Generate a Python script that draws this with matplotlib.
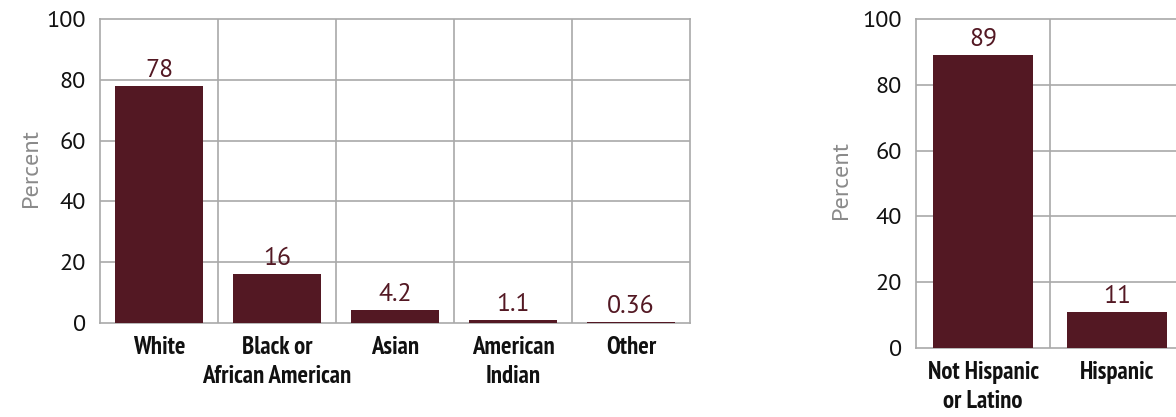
import matplotlib
matplotlib.use("Agg")
import matplotlib.pyplot as plt

# Race and ethnicity breakdown (percent)
race_labels = ["White", "Black or\nAfrican American", "Asian", "American\nIndian", "Other"]
race_values = [78, 16, 4.2, 1.1, 0.36]
race_text = ["78", "16", "4.2", "1.1", "0.36"]

eth_labels = ["Not Hispanic\nor Latino", "Hispanic"]
eth_values = [89, 11]
eth_text = ["89", "11"]

y_ticks = [0, 20, 40, 60, 80, 100]

BAR = "#531823"
GRID = "#a9a9a9"
NUM_FONT = ["PT Sans", "Open Sans", "DejaVu Sans"]
CAT_FONT = ["PT Sans Narrow", "IBM Plex Sans Condensed", "DejaVu Sans"]

fig = plt.figure(figsize=(11.76, 4.17), dpi=100)
ax1 = fig.add_axes([100 / 1176, 94 / 417, 590 / 1176, 304 / 417])
ax2 = fig.add_axes([916 / 1176, 69 / 417, 268 / 1176, 329 / 417])


def draw(ax, labels, values, texts, label_x):
    n = len(labels)
    x = list(range(n))
    ax.bar(x, values, width=0.75, color=BAR, zorder=3)
    ax.set_xlim(-0.5, n - 0.5)
    ax.set_ylim(0, 100)
    ax.set_yticks(y_ticks)
    ax.set_yticklabels([str(t) for t in y_ticks], fontsize=17.5, family=NUM_FONT, color="#111111")
    ax.set_xticks(x)
    ax.set_xticklabels(labels, fontsize=17.8, family=CAT_FONT, fontweight="bold",
                       linespacing=1.35, color="#111111")
    ax.tick_params(axis="both", length=0)
    ax.tick_params(axis="y", pad=10)
    ax.tick_params(axis="x", pad=9.5)
    for b in [i + 0.5 for i in range(n - 1)]:
        ax.axvline(b, color=GRID, lw=1.2, zorder=1)
    for t in y_ticks[1:-1]:
        ax.axhline(t, color=GRID, lw=1.2, zorder=1)
    for s in ax.spines.values():
        s.set_color(GRID)
        s.set_linewidth(1.2)
    for xi, v, s in zip(x, values, texts):
        ax.annotate(s, (xi, v), xytext=(0, 6.5), textcoords="offset points",
                    ha="center", va="baseline", fontsize=18.5, family=NUM_FONT, color=BAR)
    ax.set_ylabel("Percent", fontsize=17.5, family=NUM_FONT, color="#8a8a8a")
    ax.yaxis.set_label_coords(label_x, 0.51)


draw(ax1, race_labels, race_values, race_text, -0.099)
draw(ax2, eth_labels, eth_values, eth_text, -0.239)

fig.savefig("out.png", dpi=100)
